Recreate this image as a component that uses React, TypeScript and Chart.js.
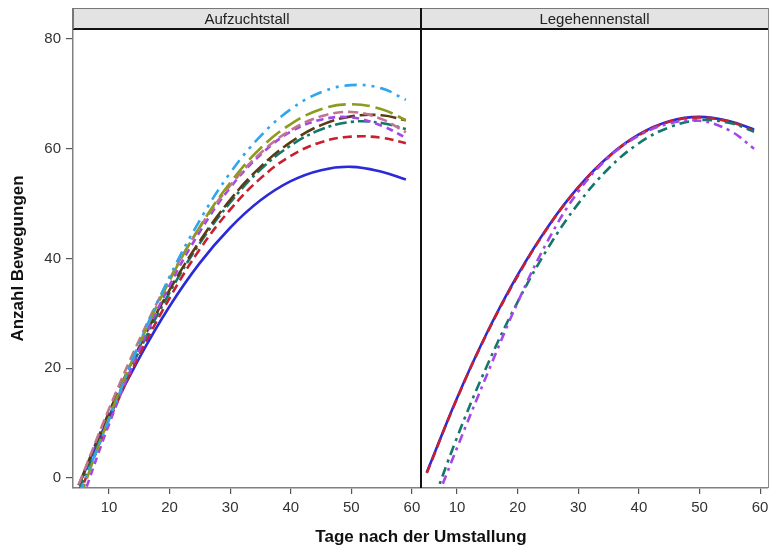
import React, { useEffect, useRef } from "react";
import { Chart, registerables } from "chart.js";
Chart.register(...registerables);

const DAYS = [5, 10, 15, 20, 25, 30, 35, 40, 45, 50, 55, 59];
const X_TICKS = [10, 20, 30, 40, 50, 60];
const Y_TICKS = [0, 20, 40, 60, 80];
const PANEL_LABELS = ["Aufzuchtstall", "Legehennenstall"];
const X_TITLE = "Tage nach der Umstallung";
const Y_TITLE = "Anzahl Bewegungen";

// Aufzuchtstall
const A_BLUE = [-1.3, 11.1, 21.9, 31.3, 39.2, 45.6, 50.6, 54.1, 56.1, 56.7, 55.8, 54.4];
const A_RED = [-3.2, 10.4, 22.4, 32.8, 41.7, 48.9, 54.6, 58.7, 61.2, 62.2, 62.0, 61.0];
const A_TEAL = [-2.4, 11.2, 23.2, 33.8, 42.8, 50.2, 56.2, 60.6, 63.5, 64.9, 64.7, 63.6];
const A_BROWN = [-1.3, 12.0, 23.9, 34.3, 43.2, 50.7, 56.7, 61.2, 64.3, 65.9, 66.1, 65.2];
const A_PURPLE = [-5.7, 9.8, 23.4, 35.1, 44.9, 52.9, 58.9, 63.1, 65.3, 65.7, 64.2, 62.0];
const A_PINK = [-1.2, 12.6, 25.2, 36.3, 45.7, 53.3, 59.2, 63.4, 65.9, 66.7, 65.4, 63.0];
const A_OLIVE = [-4.2, 11.0, 24.4, 36.0, 45.8, 53.8, 60.1, 64.5, 67.2, 68.1, 67.2, 65.2];
const A_LIGHTBLUE = [-3.0, 10.6, 24.5, 36.7, 47.0, 55.6, 62.3, 67.2, 70.3, 71.6, 71.0, 68.9];

// Legehennenstall
const L_BLUE = [1.0, 14.6, 26.6, 37.0, 45.8, 53.0, 58.6, 62.6, 65.0, 65.8, 65.0, 63.5];
const L_RED = [0.9, 14.5, 26.5, 36.8, 45.7, 52.9, 58.5, 62.5, 64.9, 65.7, 64.9, 63.3];
const L_TEAL = [-7.6, 7.4, 20.6, 32.1, 41.9, 50.0, 56.4, 61.0, 63.9, 65.2, 64.7, 63.1];
const L_PURPLE = [-8.5, 5.5, 19.0, 32.0, 43.3, 52.2, 58.4, 62.4, 64.6, 65.1, 63.3, 60.0];

const FONT = "'Liberation Sans', Arial, Helvetica, sans-serif";

function ds(data: number[], color: string, dash: number[]) {
  return {
    data: DAYS.map((d, i) => ({ x: d, y: data[i] })),
    borderColor: color,
    borderDash: dash,
    borderWidth: 2.6,
    pointRadius: 0,
    fill: false,
    tension: 0.4,
  };
}

function makeOptions(showY: boolean, xMax: number, padRight: number) {
  return {
    animation: false,
    responsive: false,
    maintainAspectRatio: false,
    events: [],
    plugins: { legend: { display: false }, tooltip: { enabled: false } },
    elements: { line: { capBezierPoints: false } },
    layout: { padding: { top: 29, left: 0, right: padRight, bottom: 0 } },
    scales: {
      x: {
        type: "linear",
        min: 4.05,
        max: xMax,
        afterBuildTicks: (s: any) => {
          s.ticks = X_TICKS.map((v) => ({ value: v }));
        },
        afterFit: (s: any) => {
          s.height = 58;
        },
        grid: { drawOnChartArea: false, drawTicks: true, tickLength: 6, color: "#555", lineWidth: 1.2 },
        border: { display: true, color: "#808080", width: 1.5 },
        ticks: { font: { family: FONT, size: 15 }, color: "#333", padding: 5, maxRotation: 0, autoSkip: false },
      },
      y: {
        type: "linear",
        display: showY,
        min: -1.82,
        max: 81.82,
        afterBuildTicks: (s: any) => {
          s.ticks = Y_TICKS.map((v) => ({ value: v }));
        },
        afterFit: (s: any) => {
          if (showY) s.width = 73;
        },
        grid: { drawOnChartArea: false, drawTicks: true, tickLength: 7, color: "#555", lineWidth: 1.2 },
        border: { display: true, color: "#808080", width: 1.5 },
        ticks: { font: { family: FONT, size: 15 }, color: "#333", padding: 5, autoSkip: false },
        title: {
          display: true,
          text: Y_TITLE,
          color: "#111",
          font: { family: FONT, size: 17, weight: "bold" },
          padding: { top: 8, bottom: 0 },
        },
      },
    },
  };
}

export default function App() {
  const leftRef = useRef<HTMLCanvasElement>(null);
  const rightRef = useRef<HTMLCanvasElement>(null);

  useEffect(() => {
    // first dataset is drawn on top
    const leftSets = [
      ds(A_LIGHTBLUE, "#2ea6f0", [12, 6, 3, 6, 3, 6]),
      ds(A_OLIVE, "#8c9b1e", [18, 6]),
      ds(A_PINK, "#c27591", [10, 5]),
      ds(A_PURPLE, "#a347e8", [7, 5]),
      ds(A_BROWN, "#5b3b15", [16, 5]),
      ds(A_TEAL, "#13786a", [12, 4, 3, 4]),
      ds(A_RED, "#c8202f", [9, 5]),
      ds(A_BLUE, "#2a2ad8", []),
    ];
    const rightSets = [
      ds(L_PURPLE, "#a347e8", [9, 5, 3, 5]),
      ds(L_TEAL, "#13786a", [10, 5, 3, 5]),
      ds(L_RED, "#c8202f", [9, 5]),
      ds(L_BLUE, "#2a2ad8", []),
    ];
    const c1 = new Chart(leftRef.current as HTMLCanvasElement, {
      type: "line",
      data: { datasets: leftSets as any },
      options: makeOptions(true, 61.5, 24) as any,
    });
    const c2 = new Chart(rightRef.current as HTMLCanvasElement, {
      type: "line",
      data: { datasets: rightSets as any },
      options: makeOptions(false, 61.3, 23) as any,
    });
    return () => {
      c1.destroy();
      c2.destroy();
    };
  }, []);

  const abs = (o: any) => ({ position: "absolute", ...o }) as React.CSSProperties;

  return (
    <div style={abs({ left: 0, top: 0, width: 769, height: 546, overflow: "hidden", background: "#fff" })}>
      <canvas ref={leftRef} width={445} height={546} style={abs({ left: 0, top: 0 })} />
      <canvas ref={rightRef} width={370} height={546} style={abs({ left: 421, top: 0 })} />
      {/* strip */}
      <div style={abs({ left: 73, top: 8, width: 696, height: 20, background: "#e3e3e3", borderTop: "1px solid #777" })} />
      <div
        style={abs({
          left: 73,
          top: 8,
          width: 348,
          height: 21,
          lineHeight: "21px",
          textAlign: "center",
          fontFamily: FONT,
          fontSize: 15,
          color: "#222",
        })}
      >
        {PANEL_LABELS[0]}
      </div>
      <div
        style={abs({
          left: 421,
          top: 8,
          width: 347,
          height: 21,
          lineHeight: "21px",
          textAlign: "center",
          fontFamily: FONT,
          fontSize: 15,
          color: "#222",
        })}
      >
        {PANEL_LABELS[1]}
      </div>
      <div style={abs({ left: 73, top: 28, width: 696, height: 2, background: "#111" })} />
      <div style={abs({ left: 72, top: 8, width: 1.5, height: 21, background: "#777" })} />
      <div style={abs({ left: 768, top: 8, width: 1, height: 480, background: "#888" })} />
      <div style={abs({ left: 419.8, top: 8, width: 2.6, height: 480, background: "#111" })} />
      <div
        style={abs({
          left: 221,
          top: 527,
          width: 400,
          height: 20,
          lineHeight: "20px",
          textAlign: "center",
          fontFamily: FONT,
          fontSize: 17,
          fontWeight: "bold",
          color: "#111",
        })}
      >
        {X_TITLE}
      </div>
    </div>
  );
}
